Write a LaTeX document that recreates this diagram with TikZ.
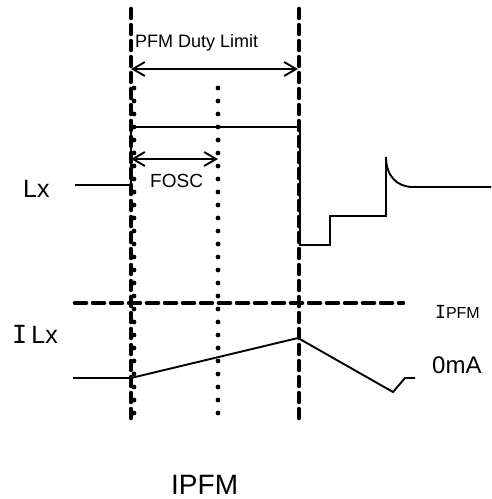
\documentclass[tikz,border=0pt]{standalone}
\usepackage{fontspec}
\setmainfont{Liberation Sans}
\newfontfamily\slabfont{DejaVu Sans Mono}
\usetikzlibrary{arrows.meta}
\tikzset{
  wave/.style={line width=1.9pt, line join=miter},
  vdash/.style={line width=4.6pt, line cap=round, dash pattern=on 9pt off 7pt},
  hdash/.style={line width=4.6pt, line cap=round, dash pattern=on 11pt off 7pt},
  dotline/.style={line width=4.8pt, line cap=round, dash pattern=on 0pt off 13pt},
  dimarrow/.style={line width=1.9pt, {Straight Barb[length=12pt,width=14pt,line width=1.9pt]}-{Straight Barb[length=12pt,width=14pt,line width=1.9pt]}},
  lbl/.style={inner sep=0pt, anchor=base west}
}
\begin{document}
\begin{tikzpicture}[x=1pt,y=-1pt]
\useasboundingbox (0,0) rectangle (491,499);
% coordinates
\coordinate (dlT) at (131,9);   \coordinate (dlB) at (131,420);
\coordinate (drT) at (299,9);   \coordinate (drB) at (299,420);
\coordinate (olT) at (134,88);  \coordinate (olB) at (134,420);
\coordinate (omT) at (218,88);  \coordinate (omB) at (218,420);
\coordinate (hL) at (75,303);   \coordinate (hR) at (403,303);
\coordinate (pdL) at (131,69);  \coordinate (pdR) at (298,69);
\coordinate (foL) at (131,159); \coordinate (foR) at (218,159);
% Lx waveform
\coordinate (lx0) at (75,185);
\draw[wave] (lx0) -- (131,185) -- (131,127) -- (300,127) -- (300,245) -- (330,245)
  -- (330,216) -- (386,216) -- (386,157) .. controls (386,176) and (397,187) .. (413,187) -- (491,187);
% ILx waveform
\coordinate (il0) at (73,378);
\draw[wave] (il0) -- (131,378) -- (298,338) -- (393,392) -- (405,378) -- (415,378);
% guide lines
\draw[vdash] (dlT) -- (dlB);
\draw[vdash] (drT) -- (drB);
\draw[dotline] (olT) -- (olB);
\draw[dotline] (omT) -- (omB);
\draw[hdash] (hL) -- (hR);
% dimension arrows
\draw[dimarrow] (pdL) -- (pdR);
\draw[dimarrow] (foL) -- (foR);
% labels
\node[lbl, font=\fontsize{18}{18}\selectfont] (tpd) at (135,47) {PFM Duty Limit};
\node[lbl, font=\fontsize{19}{19}\selectfont] (tfo) at (150,187) {FOSC};
\node[lbl, font=\fontsize{25}{25}\selectfont] (tlx) at (23,197) {Lx};
\node[lbl, font=\fontsize{25}{25}\selectfont] (tilx) at (12,343) {{\slabfont I}\,Lx};
\node[lbl] (tipfm) at (435,318) {{\fontsize{18}{18}\slabfont I}{\fontsize{16}{16}\selectfont PFM}};
\node[lbl, font=\fontsize{24}{24}\selectfont] (t0ma) at (432,373) {0mA};
\node[lbl, text depth=0pt, font=\fontsize{28}{28}\selectfont] (tbot) at (171,494) {IPFM};
\end{tikzpicture}
\end{document}
